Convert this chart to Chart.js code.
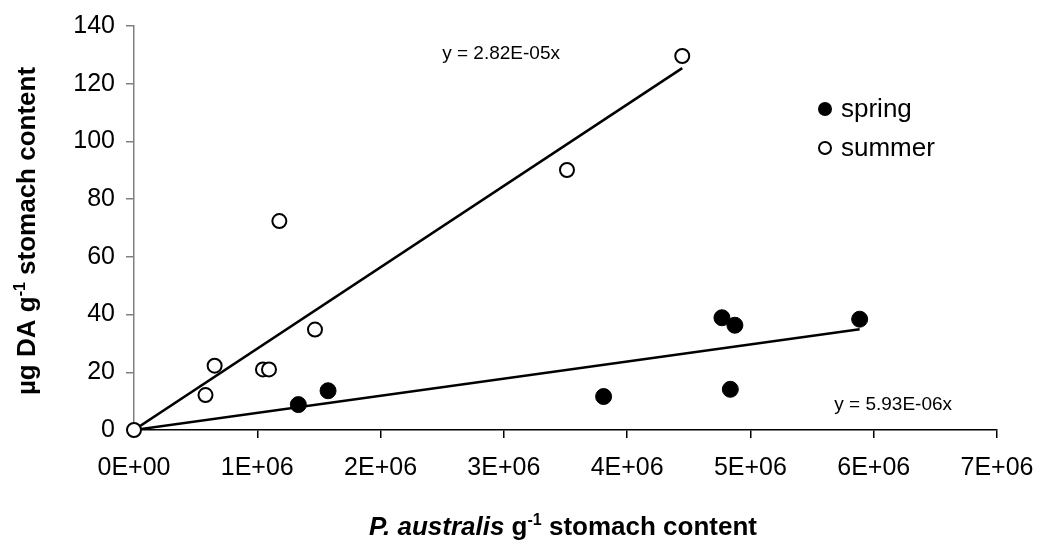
<!DOCTYPE html>
<html>
<head>
<meta charset="utf-8">
<script src="https://cdn.jsdelivr.net/npm/chart.js@4.4.1/dist/chart.umd.min.js"></script>
<style>
  html, body { margin: 0; padding: 0; background: #fff; }
</style>
</head>
<body>
<canvas id="daChart" width="1039" height="545"></canvas>
<script>
/* datos: P. australis (cells g-1) vs DA (ug g-1) */

const springX = [1.333e6, 1.574e6, 3.809e6, 4.769e6, 4.837e6, 4.874e6, 5.886e6];
const springY = [8.8, 13.6, 11.6, 38.9, 14.1, 36.3, 38.4];

const summerX = [0, 0.58e6, 0.654e6, 1.046e6, 1.095e6, 1.179e6, 1.468e6, 3.512e6, 4.447e6];
const summerY = [0, 12.1, 22.3, 21.0, 21.0, 72.4, 34.8, 90.1, 129.6];

// regression through origin
const springSlope = 5.93e-6;
const summerSlope = 2.82e-5;

const seriesNames = ["spring", "summer"];
const xTicks = [0, 1e6, 2e6, 3e6, 4e6, 5e6, 6e6, 7e6];
const yTicks = [0, 20, 40, 60, 80, 100, 120, 140];

const FONT = "'Liberation Sans', Arial, sans-serif";


/* helpers */

function sci(v, digits)
{
    if (v === 0) return "0E+00";
    let e = Math.floor(Math.log10(Math.abs(v)));
    let m = v / Math.pow(10, e);
    let ms = digits ? m.toFixed(digits) : String(Math.round(m));
    let es = String(Math.abs(e)).padStart(2, "0");
    return ms + "E" + (e < 0 ? "-" : "+") + es;
}

function toPoints(xs, ys)
{
    return xs.map((x, i) => ({ x: x, y: ys[i] }));
}

function trend(xs, slope)
{
    let xMax = Math.max(...xs);
    return [{ x: 0, y: 0 }, { x: xMax, y: slope * xMax }];
}

// text with a superscript piece, drawn left to right from x
function partsWidth(ctx, parts)
{
    let w = 0;
    parts.forEach(p => {
        ctx.font = p.font;
        w += ctx.measureText(p.text).width;
    });
    return w;
}

function drawParts(ctx, parts, x, y)
{
    let cx = x;
    parts.forEach(p => {
        ctx.font = p.font;
        ctx.fillText(p.text, cx, y - (p.rise || 0));
        cx += ctx.measureText(p.text).width;
    });
}

const bold = "bold 26px " + FONT;
const boldItalic = "italic bold 26px " + FONT;
const sup = "bold 16px " + FONT;

const yTitle = [
    { text: "\u00b5g DA g", font: bold },
    { text: "-1", font: sup, rise: 10 },
    { text: " stomach content", font: bold }
];
const xTitle = [
    { text: "P. australis", font: boldItalic },
    { text: " g", font: bold },
    { text: "-1", font: sup, rise: 10 },
    { text: " stomach content", font: bold }
];


/* extra drawing: titles, legend, equations */

const extras = {
    id: "extras",
    afterDraw(chart)
    {
        const ctx = chart.ctx;
        const xs = chart.scales.x;
        const ys = chart.scales.y;
        ctx.save();
        ctx.fillStyle = "#000";
        ctx.textBaseline = "alphabetic";
        ctx.textAlign = "left";

        // x title
        let w = partsWidth(ctx, xTitle);
        drawParts(ctx, xTitle, 563 - w / 2, 535);

        // y title
        ctx.save();
        ctx.translate(35, 231);
        ctx.rotate(-Math.PI / 2);
        w = partsWidth(ctx, yTitle);
        drawParts(ctx, yTitle, -w / 2, 0);
        ctx.restore();

        // equations
        ctx.font = "19px " + FONT;
        ctx.textBaseline = "middle";
        ctx.fillText("y = " + sci(summerSlope, 2) + "x", xs.getPixelForValue(2.5e6), ys.getPixelForValue(130.5));
        ctx.fillText("y = " + sci(springSlope, 2) + "x", xs.getPixelForValue(5.68e6), ys.getPixelForValue(8.7));

        // legend
        const rows = [109, 148];
        seriesNames.forEach((name, i) => {
            ctx.beginPath();
            if (i === 0) {
                ctx.arc(825, rows[i], 7, 0, Math.PI * 2);
                ctx.fillStyle = "#000";
                ctx.fill();
            } else {
                ctx.arc(825, rows[i], 6, 0, Math.PI * 2);
                ctx.fillStyle = "#fff";
                ctx.fill();
                ctx.lineWidth = 2;
                ctx.strokeStyle = "#000";
                ctx.stroke();
            }
            ctx.fillStyle = "#000";
            ctx.font = "26px " + FONT;
            ctx.fillText(name, 841, rows[i] + 1);
        });

        ctx.restore();
    }
};


/* chart */

new Chart(document.getElementById("daChart"), {
    type: "scatter",
    data: {
        datasets: [
            {
                label: seriesNames[1],
                data: toPoints(summerX, summerY),
                pointRadius: 7,
                pointBorderWidth: 2,
                pointBackgroundColor: "#fff",
                pointBorderColor: "#000",
                clip: false
            },
            {
                label: seriesNames[0],
                data: toPoints(springX, springY),
                pointRadius: 8,
                pointBorderWidth: 1,
                pointBackgroundColor: "#000",
                pointBorderColor: "#000",
                clip: false
            },
            {
                label: "summer trend",
                data: trend(summerX, summerSlope),
                showLine: true,
                pointRadius: 0,
                borderColor: "#000",
                borderWidth: 2.5
            },
            {
                label: "spring trend",
                data: trend(springX, springSlope),
                showLine: true,
                pointRadius: 0,
                borderColor: "#000",
                borderWidth: 2.5
            }
        ]
    },
    options: {
        responsive: false,
        devicePixelRatio: 1,
        animation: false,
        layout: {
            padding: { top: 26, right: 42, bottom: 0, left: 0 }
        },
        plugins: {
            legend: { display: false },
            tooltip: { enabled: false }
        },
        scales: {
            x: {
                type: "linear",
                min: 0,
                max: 7e6,
                afterBuildTicks: s => { s.ticks = xTicks.map(v => ({ value: v })); },
                afterFit: s => {
                    s.height = 115;
                    s.paddingLeft = 0;
                    s.paddingRight = 0;
                },
                border: { display: true, color: "#000", width: 1.5 },
                grid: {
                    drawOnChartArea: false,
                    drawTicks: true,
                    tickLength: 8,
                    color: "#000",
                    lineWidth: 1.5
                },
                ticks: {
                    padding: 15,
                    color: "#000",
                    font: { family: FONT, size: 25 },
                    maxRotation: 0,
                    callback: v => sci(v)
                }
            },
            y: {
                type: "linear",
                min: 0,
                max: 140,
                afterBuildTicks: s => { s.ticks = yTicks.map(v => ({ value: v })); },
                afterFit: s => {
                    s.width = 134;
                    s.paddingTop = 0;
                    s.paddingBottom = 0;
                },
                border: { display: true, color: "#808080", width: 1.5 },
                grid: {
                    drawOnChartArea: false,
                    drawTicks: true,
                    tickLength: 8,
                    color: "#808080",
                    lineWidth: 1.5
                },
                ticks: {
                    padding: 11,
                    color: "#000",
                    font: { family: FONT, size: 25 }
                }
            }
        }
    },
    plugins: [extras]
});
</script>
</body>
</html>
